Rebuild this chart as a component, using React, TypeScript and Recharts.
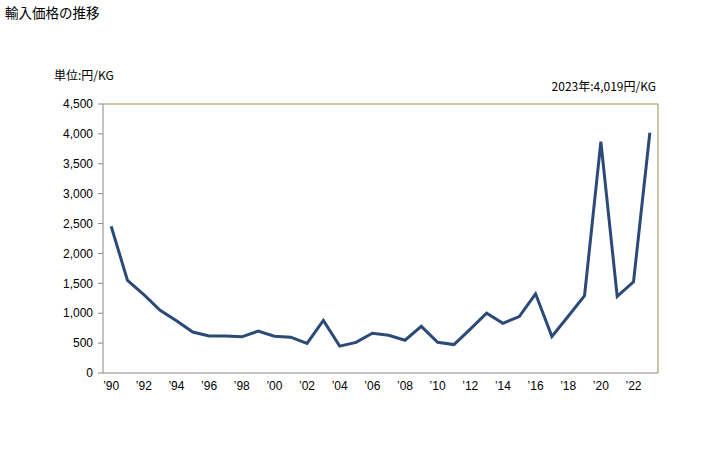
import React from "react";
import { LineChart, Line, XAxis, YAxis, ReferenceLine } from "recharts";

const years = [1990,1991,1992,1993,1994,1995,1996,1997,1998,1999,2000,2001,2002,2003,2004,2005,2006,2007,2008,2009,2010,2011,2012,2013,2014,2015,2016,2017,2018,2019,2020,2021,2022,2023];
const prices = [2455,1550,1310,1050,875,685,620,620,605,700,615,600,495,880,450,512,665,630,548,780,515,475,735,1000,830,945,1325,610,950,1295,3870,1280,1525,4019];
const yTicks = [0,500,1000,1500,2000,2500,3000,3500,4000,4500];
const xTicks = [1990,1992,1994,1996,1998,2000,2002,2004,2006,2008,2010,2012,2014,2016,2018,2020,2022];

const data = years.map((y, i) => ({ year: y, value: prices[i] }));

const FONT = "Liberation Sans, Arial, sans-serif";
const JFONT = '"Noto Sans CJK JP", "Liberation Sans", sans-serif';

export default function App() {
  return (
    <div style={{ position: "absolute", left: 0, top: 0, width: 728, height: 450, background: "#fff" }}>
      <div style={{ position: "absolute", left: 5, top: 2, fontFamily: JFONT, fontSize: 13.5, color: "#000" }}>輸入価格の推移</div>
      <div style={{ position: "absolute", left: 54, top: 66, fontFamily: JFONT, fontSize: 12, color: "#000" }}>単位:円/KG</div>
      <div style={{ position: "absolute", right: 72, top: 77, fontFamily: JFONT, fontSize: 12, color: "#000" }}>2023年:4,019円/KG</div>
      <LineChart width={728} height={450} data={data} margin={{ top: 104, right: 70, bottom: 47, left: 0 }}>
        <XAxis
          dataKey="year"
          type="number"
          domain={[1989.5, 2023.5]}
          ticks={xTicks}
          tickFormatter={(v: number) => "’" + String(v).slice(2)}
          axisLine={{ stroke: "#888888" }}
          tickLine={false}
          tick={{ fill: "#000", fontSize: 12, fontFamily: FONT }}
          tickMargin={2}
          height={30}
          interval={0}
        />
        <YAxis
          type="number"
          domain={[0, 4500]}
          ticks={yTicks}
          width={103}
          tickFormatter={(v: number) => v.toLocaleString("en-US")}
          axisLine={{ stroke: "#888888" }}
          tickLine={{ stroke: "#888888" }}
          tickSize={5}
          tick={{ fill: "#000", fontSize: 12, fontFamily: FONT }}
          tickMargin={5}
          interval={0}
        />
        <ReferenceLine y={4500} stroke="#9a8d4e" strokeWidth={1} />
        <ReferenceLine x={2023.5} stroke="#9a8d4e" strokeWidth={1} />
        <Line
          type="linear"
          dataKey="value"
          stroke="#2b4a78"
          strokeWidth={3}
          dot={false}
          isAnimationActive={false}
        />
      </LineChart>
    </div>
  );
}
